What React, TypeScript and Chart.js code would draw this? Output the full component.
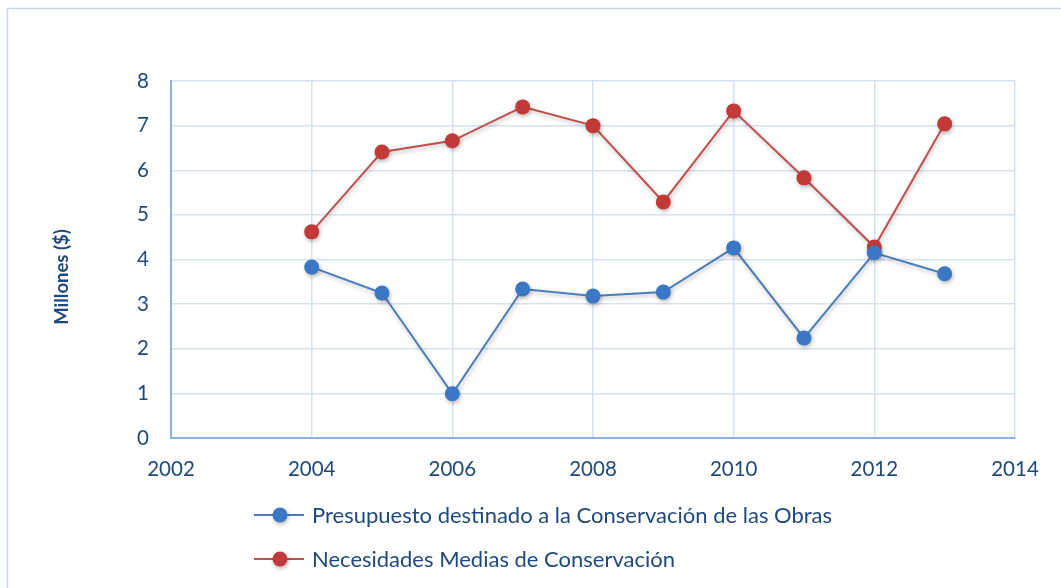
import React, { useEffect, useRef } from "react";
import { Chart, registerables } from "chart.js";

Chart.register(...registerables);

const years = [2004, 2005, 2006, 2007, 2008, 2009, 2010, 2011, 2012, 2013];
const presupuesto = [3.83, 3.25, 0.99, 3.34, 3.18, 3.27, 4.26, 2.24, 4.15, 3.68];
const necesidades = [4.62, 6.41, 6.66, 7.42, 7.0, 5.29, 7.33, 5.83, 4.28, 7.04];
const seriesNames = [
  "Presupuesto destinado a la Conservación de las Obras",
  "Necesidades Medias de Conservación",
];
const yTitle = "Millones ($)";

const TEXT = "#1f497d";
const FONT = "Lato, 'Open Sans', sans-serif";

export default function App() {
  const ref = useRef<HTMLCanvasElement | null>(null);

  useEffect(() => {
    document.body.style.margin = "0";
    document.body.style.overflow = "hidden";
    const canvas = ref.current;
    if (!canvas) return;

    const framePlugin = {
      id: "frame",
      beforeDraw(chart: any) {
        const ctx = chart.ctx;
        ctx.save();
        ctx.fillStyle = "#ffffff";
        ctx.fillRect(0, 0, chart.width, chart.height);
        ctx.strokeStyle = "#c9daf0";
        ctx.lineWidth = 1.5;
        ctx.strokeRect(7.5, 8.5, chart.width, chart.height);
        ctx.restore();
      },
    };

    const shadowPlugin = {
      id: "shadow",
      beforeDatasetsDraw(chart: any) {
        const ctx = chart.ctx;
        ctx.save();
        ctx.shadowColor = "rgba(0,0,0,0.28)";
        ctx.shadowBlur = 4;
        ctx.shadowOffsetX = 1;
        ctx.shadowOffsetY = 2;
      },
      afterDatasetsDraw(chart: any) {
        chart.ctx.restore();
      },
    };

    const titlePlugin = {
      id: "ytitle",
      afterDraw(chart: any) {
        const ctx = chart.ctx;
        ctx.save();
        ctx.translate(62, 277);
        ctx.rotate(-Math.PI / 2);
        ctx.font = `bold 18.5px ${FONT}`;
        ctx.fillStyle = TEXT;
        ctx.textAlign = "center";
        ctx.textBaseline = "middle";
        ctx.fillText(yTitle, 0, 0);
        ctx.restore();
      },
    };

    const legendPlugin = {
      id: "customLegend",
      afterDraw(chart: any) {
        const ctx = chart.ctx;
        const rows = [515, 559];
        chart.data.datasets.forEach((ds: any, i: number) => {
          const y = rows[i];
          ctx.save();
          ctx.strokeStyle = ds.borderColor;
          ctx.lineWidth = 2;
          ctx.beginPath();
          ctx.moveTo(254, y);
          ctx.lineTo(304, y);
          ctx.stroke();
          ctx.shadowColor = "rgba(0,0,0,0.28)";
          ctx.shadowBlur = 4;
          ctx.shadowOffsetX = 1;
          ctx.shadowOffsetY = 2;
          ctx.fillStyle = ds.pointBackgroundColor;
          ctx.beginPath();
          ctx.arc(280, y, 7.5, 0, Math.PI * 2);
          ctx.fill();
          ctx.restore();
          ctx.save();
          ctx.font = `22px ${FONT}`;
          ctx.fillStyle = TEXT;
          ctx.textAlign = "left";
          ctx.textBaseline = "middle";
          ctx.fillText(ds.label, 312, y + 1);
          ctx.restore();
        });
      },
    };

    const chart = new Chart(canvas, {
      type: "line",
      data: {
        datasets: [
          {
            label: seriesNames[0],
            data: years.map((x, i) => ({ x, y: presupuesto[i] })),
            borderColor: "#4a7ebb",
            backgroundColor: "#3a77c4",
            pointBackgroundColor: "#3a77c4",
            pointBorderColor: "#3a77c4",
            borderWidth: 2,
            pointRadius: 7.5,
            pointBorderWidth: 0,
            tension: 0,
          },
          {
            label: seriesNames[1],
            data: years.map((x, i) => ({ x, y: necesidades[i] })),
            borderColor: "#c0504d",
            backgroundColor: "#c23a37",
            pointBackgroundColor: "#c23a37",
            pointBorderColor: "#c23a37",
            borderWidth: 2,
            pointRadius: 7.5,
            pointBorderWidth: 0,
            tension: 0,
          },
        ],
      },
      options: {
        animation: false,
        responsive: false,
        maintainAspectRatio: false,
        layout: { padding: { left: 0, top: 81, right: 46, bottom: 100 } },
        plugins: {
          legend: { display: false },
          tooltip: { enabled: false },
          title: { display: false },
        },
        scales: {
          x: {
            type: "linear",
            min: 2002,
            max: 2014,
            afterFit(scale: any) {
              scale.height = 50;
            },
            ticks: {
              stepSize: 2,
              color: TEXT,
              font: { family: FONT, size: 20.5 },
              padding: 19,
              maxRotation: 0,
              callback: (v: any) => String(v),
            },
            grid: {
              color: "#d5e2f4",
              lineWidth: 1.5,
              drawTicks: false,
            },
            border: { color: "#8db3e2", width: 2 },
          },
          y: {
            min: 0,
            max: 8,
            afterFit(scale: any) {
              scale.width = 171;
            },
            ticks: {
              stepSize: 1,
              color: TEXT,
              font: { family: FONT, size: 20.5 },
              padding: 22,
            },
            grid: {
              color: "#d5e2f4",
              lineWidth: 1.5,
              drawTicks: false,
            },
            border: { color: "#8db3e2", width: 2 },
          },
        },
      },
      plugins: [framePlugin, shadowPlugin, titlePlugin, legendPlugin],
    } as any);

    return () => chart.destroy();
  }, []);

  return (
    <div style={{ position: "absolute", left: 0, top: 0, width: 1061, height: 588 }}>
      <canvas ref={ref} width={1061} height={588} style={{ width: 1061, height: 588, display: "block" }} />
    </div>
  );
}
